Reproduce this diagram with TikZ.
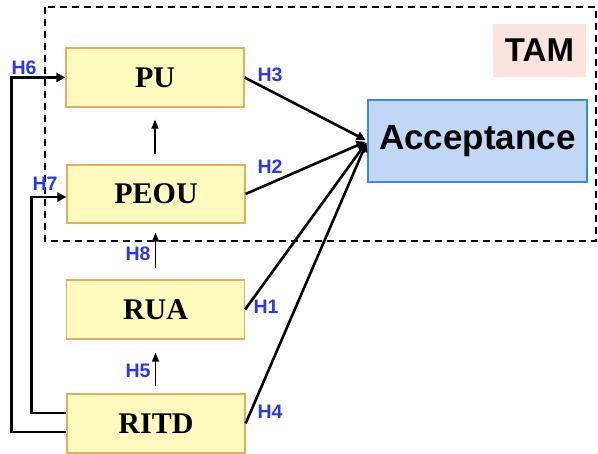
\documentclass[tikz,border=0pt]{standalone}
\usepackage{fontspec}
\setmainfont{Liberation Sans}
\newfontfamily\serifbold{Liberation Serif}
\usetikzlibrary{arrows.meta}
\definecolor{boxfill}{RGB}{255,250,190}
\definecolor{boxdraw}{RGB}{225,175,95}
\definecolor{accfill}{RGB}{192,215,245}
\definecolor{accdraw}{RGB}{60,140,210}
\definecolor{tamfill}{RGB}{252,228,222}
\definecolor{hblue}{RGB}{45,55,230}
\tikzset{
  var/.style={draw=boxdraw, fill=boxfill, line width=1.2pt, minimum width=178pt, minimum height=59pt, inner sep=0pt, font=\serifbold\bfseries\fontsize{30}{32}\selectfont},
  hyp/.style={text=hblue, font=\bfseries\fontsize{19.5}{21}\selectfont, inner sep=0pt},
  thick line/.style={line width=2.6pt, -{Triangle[length=9pt,width=9pt]}},
  thin arrow/.style={line width=1.2pt, -{Triangle[length=9pt,width=7pt]}},
}
\begin{document}
\begin{tikzpicture}[x=1pt,y=-1pt]
\useasboundingbox (0,0) rectangle (598,454);
\draw[line width=1.3pt, dash pattern=on 7pt off 5pt] (45,7) rectangle (596,241);
\node[draw=none, fill=tamfill, minimum width=93pt, minimum height=53pt, font=\bfseries\fontsize{33}{35}\selectfont] (tam) at (539.5,50.5) {TAM};
\node[draw=accdraw, fill=accfill, line width=1.2pt, minimum width=219pt, minimum height=82pt, inner sep=0pt, font=\bfseries\fontsize{35}{37}\selectfont] (acc) at (477.5,141) {Acceptance};
\node[var] (pu) at (155,77.5) {PU};
\node[var, minimum height=58pt] (peou) at (156,194) {PEOU};
\node[var] (rua) at (155.5,309.5) {RUA};
\node[var] (ritd) at (156,423.5) {RITD};
% to acceptance
\draw[thick line, shorten >=2pt] (pu.east) -- (acc.west);
\draw[thick line, shorten >=2pt] (peou.east) -- (acc.west);
\draw[thick line, shorten >=2pt] (rua.east) -- (acc.west);
\draw[thick line, shorten >=2pt] (ritd.east) -- (acc.west);
% vertical
\draw[thin arrow, shorten <=10pt, shorten >=12pt] (peou.north -| pu.south) -- (pu.south);
\draw[thin arrow, shorten <=11pt, shorten >=9pt] (rua.north) -- (rua.north |- peou.south);
\draw[thin arrow, shorten <=7pt, shorten >=13pt] (ritd.north -| rua.south) -- (rua.south);
% loops
\draw[thick line] ([yshift=-8.5pt]ritd.west) -- ++(-55,0) |- (pu.west);
\draw[thick line] ([yshift=10.5pt]ritd.west) -- ++(-35,0) |- ([yshift=-3pt]peou.west);
% labels
\node[hyp] (h6) at (24,68) {H6};
\node[hyp] (h3) at (270,75) {H3};
\node[hyp] (h2) at (270,167) {H2};
\node[hyp] (h7) at (45,184) {H7};
\node[hyp] (h8) at (138,254) {H8};
\node[hyp] (h1) at (266,307) {H1};
\node[hyp] (h5) at (138,371) {H5};
\node[hyp] (h4) at (270,412) {H4};
\end{tikzpicture}
\end{document}
